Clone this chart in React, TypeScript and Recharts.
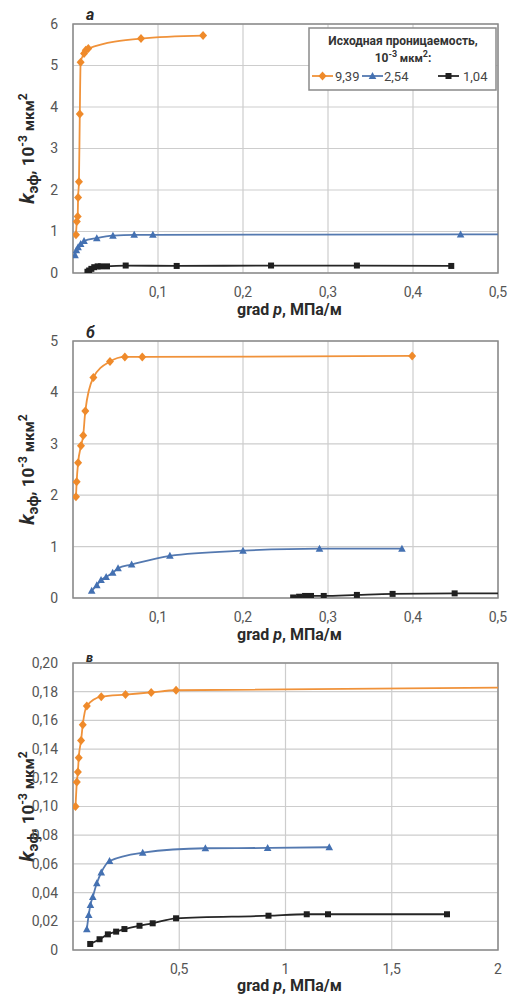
import { LineChart, Line, XAxis, YAxis, CartesianGrid, ReferenceArea, Label } from "recharts";

// legend entries (initial permeability, 10^-3 мкм²)
const PERM_LABELS = ["9,39", "2,54", "1,04"];
const COLORS = ["#ef8a2a", "#4471b2", "#1f1f1f"];
const LINE_COLORS = ["#f0923a", "#5479b0", "#262626"];
const SHAPES = ["diamond", "triangle", "square"];

// panel а: [grad p, k]
const A_HIGH = [
  [0.0035, 0.92], [0.0045, 1.24], [0.0055, 1.36], [0.006, 1.82], [0.007, 2.2],
  [0.008, 3.83], [0.009, 5.08], [0.013, 5.29], [0.015, 5.37], [0.018, 5.41],
  [0.08, 5.65], [0.153, 5.72],
];
const A_MID = [
  [0.0024, 0.43], [0.004, 0.55], [0.006, 0.62], [0.009, 0.7], [0.013, 0.77],
  [0.028, 0.84], [0.047, 0.9], [0.072, 0.92], [0.094, 0.92], [0.456, 0.93],
];
const A_MID_TAIL = [0.5, 0.93];
const A_LOW = [
  [0.017, 0.03], [0.019, 0.06], [0.0216, 0.1], [0.025, 0.14], [0.029, 0.16],
  [0.033, 0.16], [0.04, 0.16], [0.062, 0.18], [0.122, 0.17], [0.233, 0.18],
  [0.334, 0.18], [0.445, 0.17],
];

// panel б
const B_HIGH = [
  [0.0035, 1.97], [0.0043, 2.26], [0.006, 2.63], [0.0094, 2.96], [0.012, 3.16],
  [0.0145, 3.64], [0.024, 4.29], [0.0435, 4.6], [0.061, 4.69], [0.0815, 4.69],
  [0.399, 4.71],
];
const B_MID = [
  [0.022, 0.14], [0.028, 0.25], [0.033, 0.35], [0.039, 0.41], [0.0467, 0.49],
  [0.053, 0.58], [0.069, 0.65], [0.114, 0.82], [0.2, 0.92], [0.29, 0.96],
  [0.387, 0.96],
];
const B_LOW = [
  [0.259, 0.01], [0.266, 0.025], [0.273, 0.04], [0.28, 0.04], [0.295, 0.04],
  [0.334, 0.06], [0.376, 0.08], [0.449, 0.09],
];
const B_LOW_TAIL = [0.5, 0.09];

// panel в
const C_HIGH = [
  [0.012, 0.1], [0.018, 0.117], [0.023, 0.124], [0.027, 0.134], [0.038, 0.146],
  [0.046, 0.157], [0.065, 0.17], [0.133, 0.1765], [0.247, 0.178], [0.368, 0.1795],
  [0.485, 0.181],
];
const C_HIGH_TAIL = [2, 0.1828];
const C_MID = [
  [0.065, 0.0144], [0.074, 0.0244], [0.082, 0.0314], [0.093, 0.037], [0.112, 0.0465],
  [0.133, 0.054], [0.172, 0.062], [0.328, 0.0678], [0.623, 0.0709], [0.916, 0.0711],
  [1.206, 0.0716],
];
const C_LOW = [
  [0.081, 0.0042], [0.125, 0.0075], [0.164, 0.0109], [0.203, 0.0128], [0.242, 0.0146],
  [0.313, 0.0169], [0.375, 0.0186], [0.485, 0.0221], [0.92, 0.0239], [1.1, 0.0249],
  [1.2, 0.0249], [1.76, 0.0249],
];

const X_TICKS_SMALL = [0, 0.1, 0.2, 0.3, 0.4, 0.5];
const X_TICKS_WIDE = [0, 0.5, 1, 1.5, 2];
const Y_TICKS_A = [0, 1, 2, 3, 4, 5, 6];
const Y_TICKS_B = [0, 1, 2, 3, 4, 5];
const Y_TICKS_C = [0, 0.02, 0.04, 0.06, 0.08, 0.1, 0.12, 0.14, 0.16, 0.18, 0.2];

const FONT = "Roboto, 'Liberation Sans', sans-serif";

type Pt = { x: number; y: number; mark: boolean };

const toRows = (pairs: number[][], tail?: number[]): Pt[] => [
  ...pairs.map(([x, y]) => ({ x, y, mark: true })),
  ...(tail ? [{ x: tail[0], y: tail[1], mark: false }] : []),
];

function marker(shape: string, color: string, cx: number, cy: number, key?: any) {
  if (shape === "diamond")
    return <path key={key} d={`M${cx},${cy - 4.5}L${cx + 4},${cy}L${cx},${cy + 4.5}L${cx - 4},${cy}Z`} fill={color} />;
  if (shape === "triangle")
    return <path key={key} d={`M${cx},${cy - 4}L${cx + 3.8},${cy + 3}L${cx - 3.8},${cy + 3}Z`} fill={color} />;
  return <rect key={key} x={cx - 3} y={cy - 3} width={6} height={6} fill={color} />;
}

const makeDot = (shape: string, color: string) => (props: any) => {
  const { cx, cy, payload, index } = props;
  if (!payload?.mark || cx == null || cy == null) return <g key={index} />;
  return marker(shape, color, cx, cy, index);
};

const fmt = (v: number, digits: number) => (v === 0 ? "0" : v.toFixed(digits).replace(".", ","));

function YTitle({ viewBox }: any) {
  const cy = viewBox.y + viewBox.height / 2;
  return (
    <text transform={`translate(34, ${cy}) rotate(-90)`} textAnchor="middle" fontFamily={FONT} fill="#2a2a2a" fontWeight="bold" fontSize={17}>
      <tspan fontStyle="italic" fontSize={20}>k</tspan>
      <tspan dy={4} fontSize={15}>эф</tspan>
      <tspan dy={-4}>, 10</tspan>
      <tspan dy={-7} fontSize={12}>-3</tspan>
      <tspan dy={7} fontSize={15}> мкм</tspan>
      <tspan dy={-7} fontSize={12}>2</tspan>
    </text>
  );
}

const makeXTitle = (dy: number) => ({ viewBox }: any) => {
  const cx = viewBox.x + viewBox.width / 2;
  return (
    <text x={cx + 4} y={viewBox.y + dy} textAnchor="middle" fontFamily={FONT} fill="#2a2a2a" fontWeight="bold" fontSize={16}>
      grad <tspan fontStyle="italic">p</tspan>, МПа/м
    </text>
  );
};

type PanelProps = {
  top: number;
  height: number;
  marginTop: number;
  marginBottom: number;
  titleDy: number;
  letter: string;
  letterY: number;
  letterSize: number;
  xMax: number;
  xTicks: number[];
  xDigits: number;
  yMax: number;
  yTicks: number[];
  yDigits: number;
  series: Pt[][];
  legend?: boolean;
};

function Panel(p: PanelProps) {
  const xf = (v: number) => (v === 0 ? "" : Number.isInteger(v) ? String(v) : v.toFixed(p.xDigits).replace(".", ","));
  return (
    <div style={{ position: "absolute", left: 0, top: p.top, width: 508, height: p.height }}>
      <LineChart width={508} height={p.height} margin={{ top: p.marginTop, right: 10, bottom: p.marginBottom, left: 0 }}>
        <CartesianGrid stroke="#cdcdcd" strokeWidth={1.2} />
        <XAxis
          type="number"
          dataKey="x"
          domain={[0, p.xMax]}
          ticks={p.xTicks}
          tickFormatter={xf}
          allowDataOverflow
          axisLine={false}
          tickLine={false}
          tickMargin={8}
          height={25}
          tick={{ fill: "#555", fontSize: 14, fontFamily: FONT }}
        >
          <Label content={makeXTitle(p.titleDy)} />
        </XAxis>
        <YAxis
          type="number"
          domain={[0, p.yMax]}
          ticks={p.yTicks}
          tickFormatter={(v: number) => fmt(v, p.yDigits)}
          allowDataOverflow
          axisLine={false}
          tickLine={false}
          tickMargin={9}
          width={73}
          tick={{ fill: "#555", fontSize: 14, fontFamily: FONT }}
        >
          <Label content={YTitle} />
        </YAxis>
        <ReferenceArea x1={0} x2={p.xMax} y1={0} y2={p.yMax} fill="none" stroke="#8a8a8a" strokeWidth={1.5} />
        {p.series.map((rows, i) => (
          <Line
            key={i}
            data={rows}
            dataKey="y"
            type="monotone"
            stroke={LINE_COLORS[i]}
            strokeWidth={1.8}
            dot={makeDot(SHAPES[i], COLORS[i])}
            activeDot={false}
            isAnimationActive={false}
            name={PERM_LABELS[i]}
          />
        ))}
      </LineChart>
      <div
        style={{
          position: "absolute",
          left: 86,
          top: p.letterY,
          fontFamily: FONT,
          fontWeight: "bold",
          fontStyle: "italic",
          fontSize: p.letterSize,
          color: "#2a2a2a",
          lineHeight: 1,
        }}
      >
        {p.letter}
      </div>
      {p.legend && <LegendBox />}
    </div>
  );
}

function LegendBox() {
  const entries = [
    { lx: 312, tx: 335 },
    { lx: 362, tx: 384 },
    { lx: 438, tx: 463 },
  ];
  return (
    <svg style={{ position: "absolute", left: 0, top: 0 }} width={508} height={100}>
      <rect x={309} y={28} width={187} height={62} fill="#fff" stroke="#8a8a8a" strokeWidth={1.5} />
      <text x={403} y={45} textAnchor="middle" fontFamily={FONT} fontWeight="bold" fontSize={12} fill="#333">
        Исходная проницаемость,
      </text>
      <text x={403} y={62} textAnchor="middle" fontFamily={FONT} fontWeight="bold" fontSize={12} fill="#333">
        10<tspan dy={-5} fontSize={9}>-3</tspan>
        <tspan dy={5} fontSize={11}> мкм</tspan>
        <tspan dy={-5} fontSize={9}>2</tspan>
        <tspan dy={5}>:</tspan>
      </text>
      {PERM_LABELS.map((lab, i) => (
        <g key={lab}>
          <line x1={entries[i].lx} x2={entries[i].lx + 21} y1={76} y2={76} stroke={LINE_COLORS[i]} strokeWidth={1.8} />
          {marker(SHAPES[i], COLORS[i], entries[i].lx + 10.5, 76)}
          <text x={entries[i].tx} y={81} fontFamily={FONT} fontSize={13} fill="#444">
            {lab}
          </text>
        </g>
      ))}
    </svg>
  );
}

export default function App() {
  return (
    <div style={{ position: "absolute", left: 0, top: 0, width: 508, height: 999, background: "#fff" }}>
      <Panel
        top={0}
        height={320}
        marginTop={24}
        marginBottom={22}
        titleDy={42}
        letter="а"
        letterY={7}
        letterSize={16}
        xMax={0.5}
        xTicks={X_TICKS_SMALL}
        xDigits={1}
        yMax={6}
        yTicks={Y_TICKS_A}
        yDigits={0}
        series={[toRows(A_HIGH), toRows(A_MID, A_MID_TAIL), toRows(A_LOW)]}
        legend
      />
      <Panel
        top={320}
        height={325}
        marginTop={21}
        marginBottom={22}
        titleDy={42}
        letter="б"
        letterY={5}
        letterSize={16}
        xMax={0.5}
        xTicks={X_TICKS_SMALL}
        xDigits={1}
        yMax={5}
        yTicks={Y_TICKS_B}
        yDigits={0}
        series={[toRows(B_HIGH), toRows(B_MID), toRows(B_LOW, B_LOW_TAIL)]}
      />
      <Panel
        top={645}
        height={354}
        marginTop={18}
        marginBottom={24}
        titleDy={41}
        letter="в"
        letterY={6}
        letterSize={13}
        xMax={2}
        xTicks={X_TICKS_WIDE}
        xDigits={1}
        yMax={0.2}
        yTicks={Y_TICKS_C}
        yDigits={2}
        series={[toRows(C_HIGH, C_HIGH_TAIL), toRows(C_MID), toRows(C_LOW)]}
      />
    </div>
  );
}
